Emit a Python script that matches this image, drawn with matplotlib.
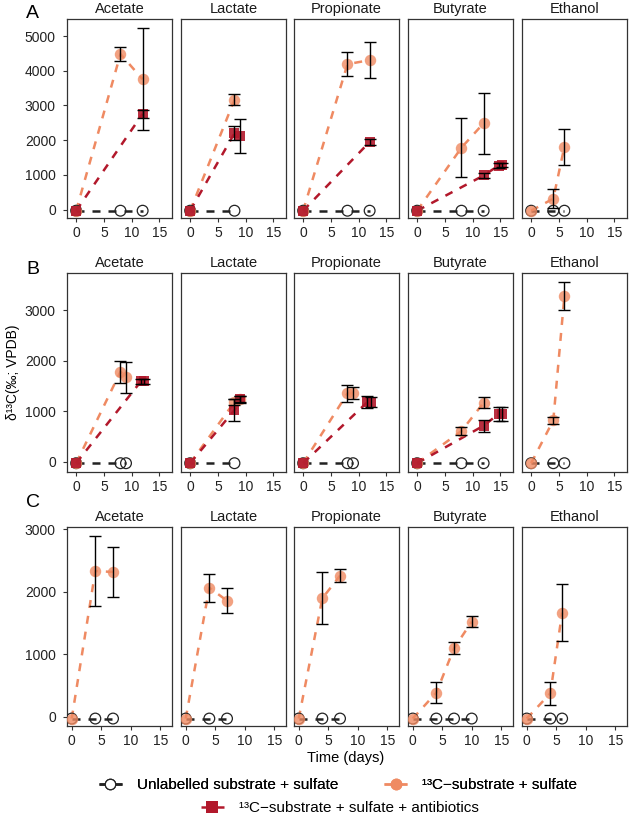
import matplotlib
matplotlib.use("Agg")
import matplotlib.pyplot as plt
from matplotlib.lines import Line2D

plt.rcParams['font.family'] = ['Liberation Sans', 'DejaVu Sans']

substrates = ["Acetate", "Lactate", "Propionate", "Butyrate", "Ethanol"]

# ---- Row A: (times, values, errors) ----
A_unlab = {"Acetate": [0, 8, 12], "Lactate": [0, 8], "Propionate": [0, 8, 12],
           "Butyrate": [0, 8, 12], "Ethanol": [0, 4, 6]}
A_lab = {
    "Acetate": ([0, 8, 12], [-30, 4480, 3755], [0, 190, 1470]),
    "Lactate": ([0, 8], [-30, 3167], [0, 160]),
    "Propionate": ([0, 8, 12], [-30, 4190, 4305], [0, 340, 510]),
    "Butyrate": ([0, 8, 12], [-30, 1786, 2490], [0, 855, 880]),
    "Ethanol": ([0, 4, 6], [-30, 318, 1815], [0, 280, 520]),
}
A_anti = {
    "Acetate": ([0, 12], [-30, 2760], [0, 110]),
    "Lactate": ([0, 8, 9], [-30, 2200, 2120], [0, 200, 490]),
    "Propionate": ([0, 12], [-30, 1950], [0, 80]),
    "Butyrate": ([0, 12, 14.7, 15.3], [-30, 984, 1270, 1280], [0, 80, 60, 60]),
}

# ---- Row B ----
B_unlab = {"Acetate": [0, 8, 9], "Lactate": [0, 8], "Propionate": [0, 8, 9],
           "Butyrate": [0, 8, 12], "Ethanol": [0, 4, 6]}
B_lab = {
    "Acetate": ([0, 8, 9], [-30, 1780, 1669], [0, 215, 310]),
    "Lactate": ([0, 8, 9], [-30, 1180, 1230], [0, 60, 60]),
    "Propionate": ([0, 8, 9], [-30, 1352, 1360], [0, 170, 120]),
    "Butyrate": ([0, 8, 12], [-30, 607, 1167], [0, 86, 115]),
    "Ethanol": ([0, 4, 6], [-30, 818, 3277], [0, 72, 277]),
}
B_anti = {
    "Acetate": ([0, 11.7, 12.3], [-30, 1590, 1590], [0, 50, 50]),
    "Lactate": ([0, 8, 9], [-30, 1020, 1240], [0, 210, 60]),
    "Propionate": ([0, 11.6, 12.3], [-30, 1180, 1180], [0, 110, 100]),
    "Butyrate": ([0, 12, 14.7, 15.3], [-30, 712, 943, 943], [0, 122, 148, 148]),
}

# ---- Row C ----
C_unlab = {"Acetate": [0, 4, 7], "Lactate": [0, 4, 7], "Propionate": [0, 4, 7],
           "Butyrate": [0, 4, 7, 10], "Ethanol": [0, 4, 6]}
C_lab = {
    "Acetate": ([0, 4, 7], [-30, 2329, 2313], [0, 560, 400]),
    "Lactate": ([0, 4, 7], [-30, 2062, 1854], [0, 222, 203]),
    "Propionate": ([0, 4, 7], [-30, 1892, 2254], [0, 413, 107]),
    "Butyrate": ([0, 4, 7, 10], [-30, 384, 1093, 1519], [0, 173, 93, 93]),
    "Ethanol": ([0, 4, 6], [-30, 373, 1663], [0, 186, 450]),
}
C_anti = {}

rows = [("A", A_unlab, A_lab, A_anti), ("B", B_unlab, B_lab, B_anti), ("C", C_unlab, C_lab, C_anti)]
row_ylims = [(-240, 5490), (-204, 3732), (-149, 3032)]
row_yticks = [[0, 1000, 2000, 3000, 4000, 5000], [0, 1000, 2000, 3000], [0, 1000, 2000, 3000]]
row_xlims = [(-1.65, 17.3), (-1.65, 17.3), (-0.8, 17.0)]
xticks = [0, 5, 10, 15]

SALMON = '#EF8A62'
DARKRED = '#B2182B'
UNLAB = '#222222'

W, H = 630, 817
fig = plt.figure(figsize=(W / 100, H / 100), dpi=100)
col_left = [67, 181, 294, 408, 522]
row_top = [19, 273, 527]
letter_y = [13, 269, 503]
pw, ph = 105, 199

dash = (0, (3.2, 3.2))

for r, (letter, unlab, lab, anti) in enumerate(rows):
    for c, sub in enumerate(substrates):
        ax = fig.add_axes([col_left[c] / W, 1 - (row_top[r] + ph) / H, pw / W, ph / H])
        # lines
        if sub in unlab:
            t = unlab[sub]
            ax.plot(t, [-30] * len(t), ls=dash, color=UNLAB, lw=1.8, zorder=2)
        if sub in lab:
            t, v, e = lab[sub]
            ax.plot(t, v, ls=dash, color=SALMON, lw=1.8, zorder=2)
        if sub in anti:
            t, v, e = anti[sub]
            ax.plot(t, v, ls=dash, color=DARKRED, lw=1.8, zorder=2)
        # points
        if sub in unlab:
            t = unlab[sub]
            ax.scatter(t, [-30] * len(t), s=60, facecolor='none', edgecolor=UNLAB,
                       linewidth=0.9, zorder=3)
        if sub in lab:
            t, v, e = lab[sub]
            ax.scatter(t, v, s=68, color=SALMON, alpha=0.8, linewidth=0, zorder=4)
        if sub in anti:
            t, v, e = anti[sub]
            ax.scatter(t, v, s=62, marker='s', color=DARKRED, alpha=0.9, linewidth=0, zorder=5)
        # error bars
        for d in (lab, anti):
            if sub in d:
                t, v, e = d[sub]
                tt = [a for a, b in zip(t, e) if b > 0]
                vv = [a for a, b in zip(v, e) if b > 0]
                ee = [b for b in e if b > 0]
                ax.errorbar(tt, vv, yerr=ee, fmt='none', ecolor='black', elinewidth=1.0,
                            capsize=4, capthick=1.0, zorder=6)
        ax.set_xlim(*row_xlims[r])
        ax.set_ylim(*row_ylims[r])
        ax.set_xticks(xticks)
        ax.set_yticks(row_yticks[r])
        ax.tick_params(axis='both', direction='out', length=3, width=0.8,
                       labelsize=10, colors='#333333', labelcolor='#222222')
        ax.tick_params(axis='y', pad=5)
        ax.tick_params(axis='x', pad=2.5)
        if c > 0:
            ax.tick_params(axis='y', left=False, labelleft=False)
        for s in ax.spines.values():
            s.set_linewidth(0.9)
            s.set_color('#333333')
        ax.set_title(sub, fontsize=10.5, pad=4, color='#1a1a1a')
    fig.text(26 / W, 1 - letter_y[r] / H, letter, fontsize=14, va='center', ha='left')

fig.text(346 / W, 1 - 758 / H, "Time (days)", ha='center', va='center', fontsize=10.5)
fig.text(13 / W, 1 - 372 / H, "δ¹³C(‰; VPDB)", ha='center', va='center', rotation=90, fontsize=10)

h1 = Line2D([], [], color=UNLAB, ls=dash, lw=1.8, marker='o', markersize=7.5,
            markerfacecolor='white', markeredgecolor=UNLAB, markeredgewidth=0.9)
h2 = Line2D([], [], color=SALMON, ls=dash, lw=1.8, marker='o', markersize=8.5,
            markerfacecolor=SALMON, markeredgewidth=0, alpha=0.9)
h3 = Line2D([], [], color=DARKRED, ls=dash, lw=1.8, marker='s', markersize=8,
            markerfacecolor=DARKRED, markeredgewidth=0)
leg1 = fig.legend([h1, h2], ["Unlabelled substrate + sulfate", "¹³C−substrate + sulfate"],
                  loc='center', bbox_to_anchor=(338 / W, 1 - 785 / H), ncol=2, frameon=False,
                  fontsize=11, handlelength=1.5, columnspacing=3.0, handletextpad=1.0)
leg2 = fig.legend([h3], ["¹³C−substrate + sulfate + antibiotics"],
                  loc='center', bbox_to_anchor=(340 / W, 1 - 808 / H), frameon=False,
                  fontsize=11, handlelength=1.5, handletextpad=1.0)
fig.add_artist(leg1)

fig.savefig("out.png", dpi=100)
